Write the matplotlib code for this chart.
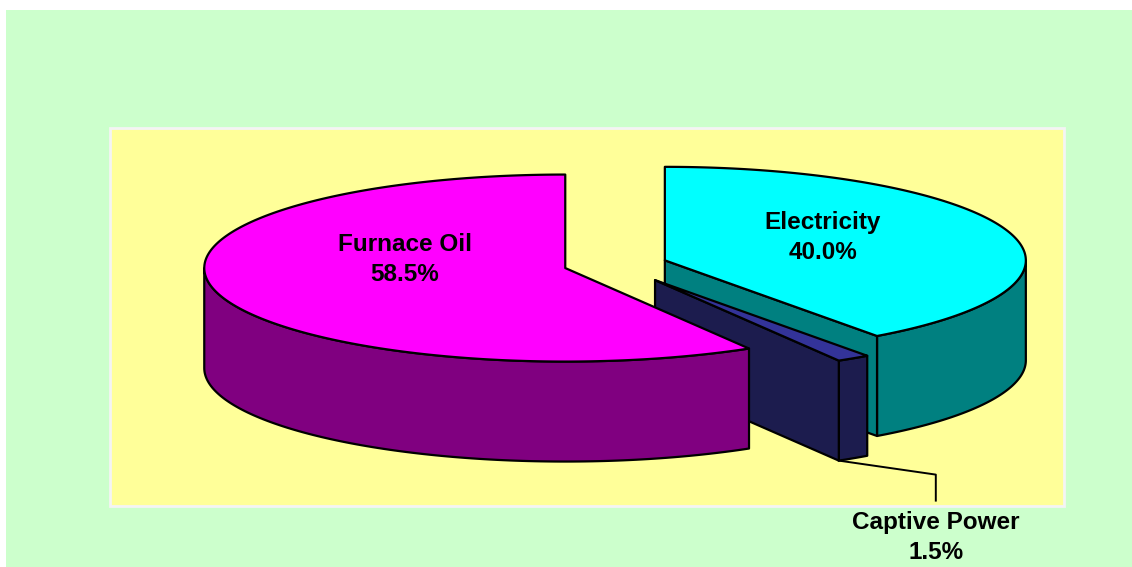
import numpy as np
import matplotlib.pyplot as plt
from matplotlib.patches import Polygon, Rectangle

# Energy share data
labels = ['Electricity', 'Captive Power', 'Furnace Oil']
shares = [40.0, 1.5, 58.5]
top_colors = ['#00FFFF', '#333399', '#FF00FF']
side_colors = ['#008080', '#1C1C4E', '#800080']
explode = [0.144, 0.2, 0.144]

# Pie geometry (pixel space, y grows downward)
W, H = 1132, 567
cx0, cy0 = 615.4, 264.5
rx, ry = 361, 93.5
depth = 100
draw_order = [0, 1, 2]


def pt(c, th, r=1.0, dz=0.0, sq=1.0):
    t = np.radians(th)
    return np.column_stack([c[0] + r * rx * np.sin(t), c[1] - sq * r * ry * np.cos(t) + dz])


fig = plt.figure(figsize=(W / 100, H / 100), dpi=100)
fig.patch.set_facecolor('white')
ax = fig.add_axes([0, 0, 1, 1])
ax.set_xlim(0, W)
ax.set_ylim(H, 0)
ax.axis('off')

# chart and plot areas
ax.add_patch(Rectangle((6, 10), W - 6, H - 10, facecolor='#CCFFCC', edgecolor='none', zorder=0))
ax.add_patch(Rectangle((110, 128), 954, 378, facecolor='#FFFF99', edgecolor='#F4F4F4', lw=2, zorder=1))

# slice angles, clockwise from 12 o'clock
bounds = np.concatenate([[0], np.cumsum(shares) / sum(shares) * 360])
slices = []
for i in range(len(shares)):
    a1, a2 = bounds[i], bounds[i + 1]
    mid = (a1 + a2) / 2
    c = pt((cx0, cy0), np.array([mid]), explode[i])[0]
    slices.append((a1, a2, mid, c))

kw = dict(edgecolor='black', lw=1.6, joinstyle='round')
z = 2
for i in draw_order:
    a1, a2, mid, c = slices[i]
    # outer wall (front half only)
    w1, w2 = max(a1, 90), min(a2, 270)
    if w2 > w1:
        th = np.linspace(w1, w2, 120)
        poly = np.vstack([pt(c, th), pt(c, th[::-1], dz=depth)])
        ax.add_patch(Polygon(poly, closed=True, facecolor=side_colors[i], zorder=z, **kw))
    # radial cut faces facing the viewer
    for ang, nrm in [(a1, a1 - 90), (a2, a2 + 90)]:
        if np.cos(np.radians(nrm)) < -1e-6:
            p = pt(c, np.array([ang]))[0]
            poly = [c, p, p + [0, depth], c + [0, depth]]
            ax.add_patch(Polygon(poly, closed=True, facecolor=side_colors[i], zorder=z, **kw))
    # top face
    th = np.linspace(a1, a2, 200)
    poly = np.vstack([[c], pt(c, th)])
    ax.add_patch(Polygon(poly, closed=True, facecolor=top_colors[i], zorder=z, **kw))
    z += 1

font = dict(family=['Liberation Sans', 'Arial', 'DejaVu Sans'], fontsize=17.5, fontweight='bold',
            ha='center', va='center', linespacing=1.38, zorder=10)

for i in range(len(shares)):
    a1, a2, mid, c = slices[i]
    txt = f'{labels[i]}\n{shares[i]:.1f}%'
    if shares[i] > 5:
        p = pt(c, np.array([mid]), 0.46, sq=0.57)[0]
        ax.text(p[0], p[1] - 15, txt, **font)
    else:
        # small slice: label outside with leader line
        anchor = pt(c, np.array([a2]), dz=depth)[0]
        lx, ly = anchor[0] + 97, anchor[1] + 77
        ax.plot([anchor[0], lx, lx], [anchor[1], anchor[1] + 14, ly - 37],
                color='black', lw=1.4, zorder=9)
        ax.text(lx, ly, txt, **font)

fig.savefig('out.png', dpi=100, facecolor='white')
